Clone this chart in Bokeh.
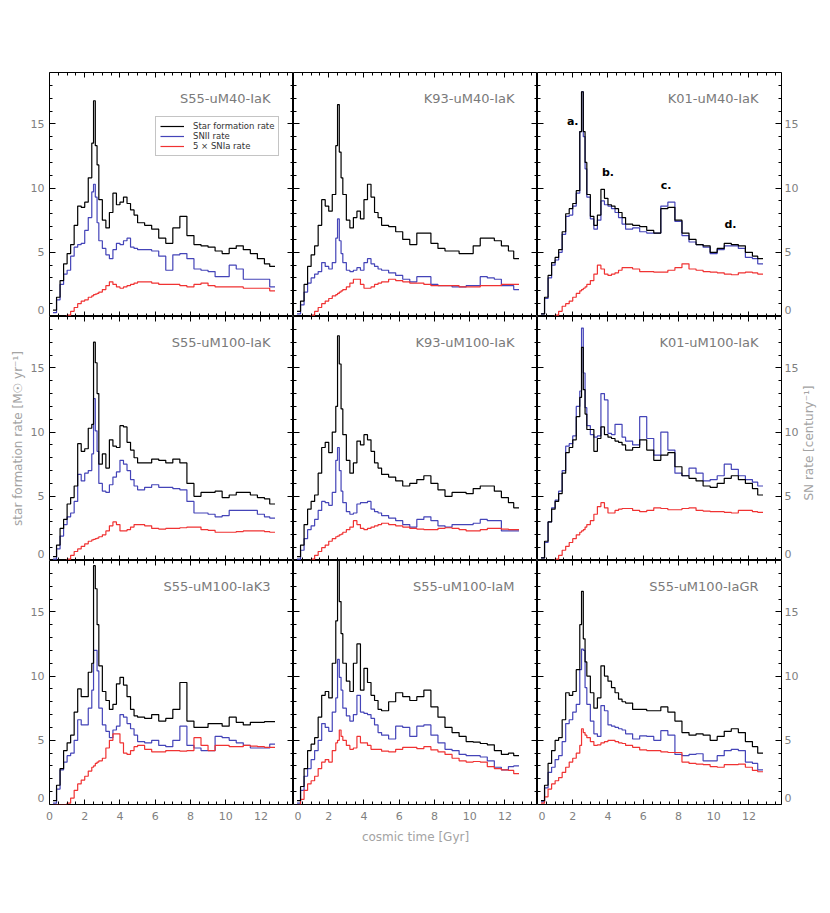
import math
from bokeh.plotting import figure
from bokeh.layouts import row, column
from bokeh.models import (Range1d, LinearAxis, FixedTicker, CustomJSTickFormatter,
                          Legend, LegendItem, Label)
from bokeh.embed import file_html
from bokeh.resources import INLINE

# ------------------------------------------------------------------ data
TIME_EDGES = [0.2, 0.4, 0.6, 0.8, 1.0, 1.2, 1.4, 1.6, 1.8, 2.0, 2.2, 2.4, 2.5, 2.6, 2.7, 2.8,
              3.0, 3.2, 3.4, 3.6, 3.8, 4.0, 4.2, 4.4, 4.6, 4.8, 5.0, 5.4, 5.8, 6.2, 6.6, 7.0,
              7.4, 7.8, 8.2, 8.6, 9.0, 9.4, 9.8, 10.2, 10.6, 11.0, 11.4, 11.8, 12.2, 12.5, 12.8]

S55_uM40_IaK_SFR = [0.5, 1.5, 2.8, 4.1, 4.9, 5.6, 7.1, 8.6, 8.5, 8.9, 10.8, 13.5, 16.8, 13.3, 11.8, 9.1,
                    7.5, 6.9, 8.1, 9.6, 8.7, 8.9, 9.3, 8.8, 8.3, 7.9, 7.3, 7.1, 6.8, 6.1, 5.7, 6.9,
                    7.8, 6.3, 5.6, 5.5, 5.4, 5.1, 4.9, 5.3, 5.5, 5.2, 4.9, 4.5, 4.1, 3.9]
S55_uM40_IaK_SNII = [0.3, 1.3, 2.5, 3.3, 3.6, 4.7, 5.4, 5.6, 5.7, 6.7, 7.7, 9.7, 10.3, 9.3, 7.3, 5.9,
                     5.3, 4.8, 4.5, 5.2, 5.7, 5.6, 5.9, 6.1, 5.4, 5.3, 5.2, 5.2, 5.1, 4.7, 3.6, 4.8,
                     4.9, 4.5, 3.7, 3.6, 3.5, 3.1, 3.1, 4.0, 3.7, 2.9, 2.9, 2.9, 2.9, 2.3]
S55_uM40_IaK_SNIA = [0, 0, 0, 0, 0.1, 0.4, 0.7, 1.0, 1.2, 1.3, 1.5, 1.6, 1.7, 1.75, 1.8, 1.9,
                     2.1, 2.4, 2.7, 2.5, 2.3, 2.2, 2.3, 2.4, 2.5, 2.6, 2.7, 2.7, 2.6, 2.5, 2.5, 2.5,
                     2.4, 2.3, 2.5, 2.6, 2.4, 2.3, 2.3, 2.3, 2.3, 2.2, 2.2, 2.2, 2.2, 2.0]

K93_uM40_IaK_SFR = [0.4, 1.2, 2.5, 3.9, 4.8, 5.5, 7.1, 9.1, 8.6, 8.2, 9.5, 13.3, 16.5, 12.8, 10.8, 9.5,
                    7.5, 6.9, 7.7, 8.2, 7.6, 9.1, 10.3, 9.3, 8.1, 7.7, 7.1, 7.0, 6.6, 6.0, 5.6, 6.5,
                    6.5, 5.7, 5.3, 5.1, 5.1, 4.9, 4.9, 5.5, 6.1, 6.1, 5.9, 5.5, 5.1, 4.5]
K93_uM40_IaK_SNII = [0.2, 0.9, 1.9, 2.6, 3.0, 3.3, 3.5, 4.2, 3.9, 3.7, 4.2, 6.1, 7.6, 5.9, 4.9, 4.2,
                     3.6, 3.5, 3.6, 3.8, 3.6, 4.2, 4.5, 4.1, 3.9, 3.7, 3.6, 3.4, 3.2, 2.9, 2.7, 3.1,
                     3.1, 2.5, 2.4, 2.4, 2.3, 2.3, 2.4, 2.4, 3.1, 3.0, 2.9, 2.4, 2.4, 2.1]
K93_uM40_IaK_SNIA = [0, 0, 0, 0, 0.1, 0.4, 0.7, 1.0, 1.2, 1.4, 1.6, 1.7, 1.8, 1.9, 2.0, 2.1,
                     2.3, 2.6, 2.9, 2.9, 2.5, 2.2, 2.2, 2.3, 2.5, 2.6, 2.7, 2.9, 2.8, 2.7, 2.6, 2.6,
                     2.5, 2.4, 2.4, 2.4, 2.4, 2.3, 2.3, 2.3, 2.4, 2.4, 2.4, 2.5, 2.5, 2.5]

K01_uM40_IaK_SFR = [0.2, 1.5, 3.2, 4.2, 4.6, 5.2, 6.6, 8.0, 8.4, 8.8, 9.8, 14.4, 17.5, 14.4, 12.0, 9.5,
                    7.8, 7.1, 7.9, 9.9, 9.2, 8.7, 8.6, 8.4, 8.1, 7.7, 7.2, 7.1, 7.0, 6.7, 6.5, 8.4,
                    8.5, 7.5, 6.5, 6.0, 5.6, 5.5, 5.0, 5.3, 5.7, 5.6, 5.5, 5.0, 4.7, 4.5]
K01_uM40_IaK_SNII = [0.2, 1.4, 3.0, 4.0, 4.4, 5.0, 6.4, 7.8, 7.9, 8.6, 9.6, 14.4, 17.5, 14.0, 11.5, 9.3,
                     7.6, 6.8, 7.5, 9.0, 8.7, 8.6, 8.4, 8.1, 7.7, 7.2, 6.8, 6.9, 6.6, 6.5, 6.5, 8.6,
                     8.9, 7.4, 6.3, 5.8, 5.6, 5.4, 4.9, 5.2, 5.5, 5.5, 5.3, 4.6, 4.5, 4.1]
K01_uM40_IaK_SNIA = [0, 0, 0, 0, 0.1, 0.4, 0.8, 1.0, 1.2, 1.5, 1.8, 2.0, 2.1, 2.2, 2.3, 2.5,
                     2.8, 3.3, 4.0, 3.7, 3.3, 3.2, 3.3, 3.4, 3.6, 3.8, 3.8, 3.7, 3.5, 3.5, 3.45, 3.45,
                     3.6, 3.8, 4.1, 3.7, 3.6, 3.5, 3.45, 3.4, 3.3, 3.25, 3.4, 3.45, 3.4, 3.3]

S55_uM100_IaK_SFR = [0.3, 1.2, 2.5, 3.2, 4.4, 4.9, 5.8, 9.1, 8.5, 8.7, 10.3, 10.6, 17.0, 15.4, 13.0, 7.5,
                     8.3, 7.2, 9.4, 8.9, 8.8, 10.5, 10.4, 9.2, 8.6, 8.0, 7.6, 7.6, 7.9, 7.8, 7.6, 7.9,
                     7.6, 6.0, 5.0, 5.3, 5.3, 5.4, 4.9, 5.1, 5.3, 5.3, 5.1, 4.9, 4.8, 4.4]
S55_uM100_IaK_SNII = [0.1, 0.9, 1.9, 2.8, 3.4, 3.7, 4.6, 6.7, 6.2, 6.8, 7.0, 8.3, 12.6, 10.1, 8.5, 6.0,
                      5.4, 5.3, 5.9, 6.5, 6.9, 7.8, 7.5, 7.0, 6.3, 5.8, 5.5, 5.7, 5.9, 5.7, 5.7, 5.6,
                      5.5, 4.6, 3.7, 3.7, 3.6, 3.4, 3.5, 3.9, 3.9, 3.9, 3.9, 3.6, 3.4, 3.3]
S55_uM100_IaK_SNIA = [0, 0, 0, 0, 0.1, 0.4, 0.7, 0.9, 1.1, 1.3, 1.5, 1.6, 1.65, 1.7, 1.75, 1.85,
                      2.0, 2.3, 2.7, 3.0, 2.8, 2.3, 2.3, 2.4, 2.6, 2.8, 2.8, 2.7, 2.5, 2.45, 2.5, 2.5,
                      2.55, 2.6, 2.6, 2.4, 2.35, 2.2, 2.2, 2.2, 2.25, 2.3, 2.3, 2.3, 2.25, 2.2]

K93_uM100_IaK_SFR = [0.3, 1.2, 2.8, 4.0, 4.6, 5.1, 6.8, 8.8, 9.2, 8.4, 10.0, 12.0, 17.5, 15.3, 11.8, 9.8,
                     7.8, 6.8, 7.6, 9.3, 9.0, 9.8, 9.4, 8.5, 7.6, 7.2, 6.7, 6.5, 6.2, 5.8, 6.0, 6.3,
                     6.6, 6.0, 5.5, 5.0, 5.3, 5.3, 5.2, 5.6, 5.8, 5.8, 5.4, 4.9, 4.5, 4.1]
K93_uM100_IaK_SNII = [0.1, 0.8, 1.7, 2.4, 2.7, 3.2, 3.9, 4.6, 4.5, 4.3, 5.3, 7.8, 8.8, 7.0, 5.4, 4.5,
                      3.8, 3.6, 3.7, 4.4, 4.5, 4.5, 4.6, 4.0, 3.8, 3.7, 3.5, 3.3, 3.1, 2.8, 2.6, 3.2,
                      3.4, 3.1, 2.7, 2.6, 2.8, 2.8, 2.8, 2.9, 3.2, 3.1, 3.1, 2.3, 2.3, 2.3]
K93_uM100_IaK_SNIA = [0, 0, 0, 0, 0.1, 0.4, 0.7, 1.0, 1.2, 1.5, 1.7, 1.85, 1.9, 2.0, 2.05, 2.2,
                      2.4, 2.6, 3.1, 2.8, 2.5, 2.4, 2.5, 2.6, 2.7, 2.8, 2.9, 2.8, 2.7, 2.6, 2.5, 2.45,
                      2.4, 2.4, 2.5, 2.55, 2.5, 2.4, 2.3, 2.3, 2.4, 2.5, 2.5, 2.45, 2.4, 2.4]

K01_uM100_IaK_SFR = [0.2, 1.5, 3.0, 4.0, 4.6, 5.2, 6.8, 8.4, 8.8, 9.4, 11.2, 12.7, 16.6, 13.3, 11.4, 10.2,
                     10.2, 8.5, 9.5, 10.4, 9.8, 9.6, 9.5, 9.3, 9.2, 9.0, 8.6, 8.8, 9.4, 8.6, 7.8, 8.2,
                     8.4, 7.3, 6.6, 6.4, 6.2, 5.8, 5.7, 6.0, 6.4, 6.6, 6.3, 6.0, 5.6, 5.1]
K01_uM100_IaK_SNII = [0.2, 1.4, 3.0, 4.1, 4.7, 5.4, 7.0, 8.9, 9.1, 9.7, 12.0, 13.2, 18.1, 14.6, 11.9, 10.5,
                      9.8, 9.6, 9.7, 13.0, 12.5, 9.9, 9.8, 10.6, 10.6, 9.6, 9.3, 9.0, 11.2, 9.5, 8.2, 10.0,
                      8.6, 6.8, 6.6, 7.2, 6.8, 6.2, 6.3, 6.6, 7.5, 7.1, 6.6, 6.3, 6.1, 5.8]
K01_uM100_IaK_SNIA = [0, 0, 0, 0, 0.1, 0.4, 0.8, 1.1, 1.4, 1.7, 2.0, 2.2, 2.3, 2.4, 2.6, 2.8,
                      3.1, 3.6, 4.2, 4.5, 4.1, 3.7, 3.7, 3.9, 4.0, 4.05, 4.05, 3.9, 3.8, 3.9, 4.1, 4.05,
                      3.95, 3.95, 4.05, 4.1, 3.9, 3.85, 3.8, 3.8, 3.75, 3.7, 3.9, 3.9, 3.8, 3.75]

S55_uM100_IaK3_SFR = [0.3, 1.5, 2.8, 4.2, 4.8, 5.4, 7.2, 9.0, 8.4, 8.4, 10.3, 11.0, 18.6, 16.8, 14.0, 10.8,
                      8.8, 8.1, 7.4, 7.8, 9.4, 9.9, 9.3, 8.4, 7.4, 6.9, 6.8, 6.7, 7.0, 6.5, 6.7, 7.4,
                      9.5, 6.5, 6.0, 6.0, 6.3, 6.3, 6.1, 6.8, 6.4, 6.2, 6.4, 6.4, 6.45, 6.45]
S55_uM100_IaK3_SNII = [0.1, 1.2, 2.7, 3.3, 3.8, 4.0, 5.0, 6.6, 6.2, 6.2, 7.5, 8.9, 12.0, 12.0, 10.4, 7.5,
                       6.2, 5.7, 5.2, 5.8, 6.1, 7.0, 6.8, 6.3, 5.9, 5.4, 4.9, 4.8, 5.0, 4.6, 4.5, 5.0,
                       6.1, 4.6, 4.4, 4.2, 4.2, 5.3, 5.2, 5.0, 4.8, 4.6, 4.4, 4.4, 4.4, 4.7]
S55_uM100_IaK3_SNIA = [0, 0, 0, 0, 0.1, 0.5, 1.1, 1.6, 1.9, 2.2, 2.6, 2.9, 3.0, 3.2, 3.3, 3.4,
                       3.6, 4.4, 5.0, 5.5, 5.5, 4.8, 4.0, 3.9, 4.2, 4.5, 4.6, 4.3, 4.1, 4.1, 4.2, 4.2,
                       4.15, 4.2, 5.2, 4.6, 4.2, 4.6, 4.6, 4.5, 4.5, 4.6, 4.55, 4.5, 4.45, 4.45]

S55_uM100_IaM_SFR = [0.3, 1.4, 2.8, 4.2, 4.7, 5.2, 6.8, 8.5, 8.8, 8.3, 11.0, 14.3, 20.0, 15.8, 13.3, 11.0,
                     9.6, 8.8, 11.0, 12.5, 8.9, 10.6, 9.5, 8.5, 8.1, 7.4, 7.3, 8.0, 8.7, 8.4, 8.1, 8.4,
                     8.9, 7.6, 6.8, 6.0, 5.6, 5.3, 4.9, 4.85, 4.75, 4.65, 4.2, 3.9, 4.0, 3.8]
S55_uM100_IaM_SNII = [0.1, 1.1, 2.2, 2.8, 3.5, 4.2, 5.0, 6.3, 6.0, 5.7, 7.2, 8.3, 11.3, 9.9, 8.9, 7.5,
                      6.9, 6.5, 7.0, 8.5, 7.2, 7.1, 7.0, 6.7, 6.2, 5.6, 5.4, 5.1, 6.1, 6.0, 5.3, 6.1,
                      6.2, 5.4, 4.8, 4.3, 4.2, 3.9, 3.8, 3.8, 3.7, 3.4, 2.9, 2.7, 2.95, 3.0]
S55_uM100_IaM_SNIA = [0, 0.4, 1.1, 1.6, 1.85, 2.2, 2.8, 3.3, 3.5, 3.3, 4.2, 4.8, 5.0, 5.8, 5.3, 5.0,
                      4.6, 4.3, 4.4, 5.3, 4.8, 4.8, 4.6, 4.3, 4.3, 4.3, 4.15, 4.1, 4.3, 4.45, 4.45, 4.35,
                      4.5, 4.25, 4.1, 3.9, 3.6, 3.4, 3.3, 3.35, 3.3, 2.95, 2.8, 2.7, 2.65, 2.4]

S55_uM100_IaGR_SFR = [0.3, 1.5, 3.2, 4.2, 5.0, 5.2, 6.6, 8.7, 8.5, 8.8, 10.5, 14.0, 16.6, 12.9, 11.1, 10.0,
                      8.7, 7.5, 8.3, 10.8, 10.0, 9.6, 9.1, 8.7, 8.2, 8.0, 7.9, 7.4, 7.4, 7.3, 7.3, 7.6,
                      7.2, 6.5, 5.6, 5.4, 5.5, 5.4, 5.0, 5.3, 5.7, 5.9, 5.6, 4.9, 4.5, 4.0]
S55_uM100_IaGR_SNII = [0.2, 1.3, 2.5, 2.9, 3.5, 3.8, 4.9, 6.3, 6.6, 7.2, 7.8, 10.5, 12.1, 12.0, 9.1, 7.8,
                       6.5, 5.5, 5.3, 7.7, 7.3, 6.2, 6.1, 6.0, 5.9, 5.8, 5.5, 5.1, 5.35, 5.3, 5.0, 5.75,
                       5.4, 3.9, 3.8, 3.9, 3.95, 3.4, 3.4, 3.8, 4.2, 4.3, 4.2, 3.3, 3.2, 2.7]
S55_uM100_IaGR_SNIA = [0.1, 0.6, 1.2, 1.6, 1.85, 2.1, 2.5, 2.9, 3.3, 3.6, 4.0, 4.6, 5.9, 5.6, 5.4, 5.2,
                       4.9, 4.6, 4.65, 4.8, 4.9, 5.0, 5.0, 4.9, 4.8, 4.75, 4.6, 4.45, 4.25, 4.2, 4.2, 4.1,
                       4.05, 4.05, 3.3, 3.2, 3.15, 3.1, 2.95, 2.9, 3.1, 3.1, 3.15, 2.9, 2.65, 2.55]

PANEL_NAMES = ["S55-uM40-IaK", "K93-uM40-IaK", "K01-uM40-IaK",
               "S55-uM100-IaK", "K93-uM100-IaK", "K01-uM100-IaK",
               "S55-uM100-IaK3", "S55-uM100-IaM", "S55-uM100-IaGR"]
PANEL_SFR = [S55_uM40_IaK_SFR, K93_uM40_IaK_SFR, K01_uM40_IaK_SFR,
             S55_uM100_IaK_SFR, K93_uM100_IaK_SFR, K01_uM100_IaK_SFR,
             S55_uM100_IaK3_SFR, S55_uM100_IaM_SFR, S55_uM100_IaGR_SFR]
PANEL_SNII = [S55_uM40_IaK_SNII, K93_uM40_IaK_SNII, K01_uM40_IaK_SNII,
              S55_uM100_IaK_SNII, K93_uM100_IaK_SNII, K01_uM100_IaK_SNII,
              S55_uM100_IaK3_SNII, S55_uM100_IaM_SNII, S55_uM100_IaGR_SNII]
PANEL_SNIA = [S55_uM40_IaK_SNIA, K93_uM40_IaK_SNIA, K01_uM40_IaK_SNIA,
              S55_uM100_IaK_SNIA, K93_uM100_IaK_SNIA, K01_uM100_IaK_SNIA,
              S55_uM100_IaK3_SNIA, S55_uM100_IaM_SNIA, S55_uM100_IaGR_SNIA]

LEGEND_LABELS = ["Star formation rate", "SNII rate", "5 \u00d7 SNIa rate"]
MARK_TEXT = ["a.", "b.", "c.", "d."]
MARK_X = [2.0, 4.0, 7.3, 10.95]
MARK_Y = [15.2, 11.2, 10.2, 7.15]
RIGHT_TITLE = "SN rate [century\u207b\u00b9]"

X_TICKS = [0, 2, 4, 6, 8, 10, 12]
X_MINOR_TICKS = [0.5, 1, 1.5, 2, 2.5, 3, 3.5, 4, 4.5, 5, 5.5, 6, 6.5, 7, 7.5, 8, 8.5, 9,
                 9.5, 10, 10.5, 11, 11.5, 12, 12.5, 13, 13.5]
Y_TICKS = [0, 5, 10, 15]
Y_MINOR_TICKS = [1, 2, 3, 4, 5, 6, 7, 8, 9, 10, 11, 12, 13, 14, 15, 16, 17, 18]
X_MAX = 13.85
Y_MAX = 19.0

# ------------------------------------------------------------------ style
FONT = "DejaVu Sans"
C_SFR = "#000000"
C_SNII = "#4444b8"
C_SNIA = "#f03232"
TICK_GRAY = "#7f7f7f"
LABEL_GRAY = "#a3a3a3"
TITLE_GRAY = "#7a7a7a"
ZERO_LABEL_Y = 0.5     # label spot of the y "0" (drawn slightly above the bottom edge)
ZERO_LABEL_X = 0.25    # label spot of the x "0" of inner columns (right of the edge)
RIGHT_TITLE_PAD = "\u2003" * 5   # lifts the bottom-anchored right title to the row middle

ZERO_FMT = "return (tick < 1) ? '0' : String(Math.round(tick));"
AXIS_PROPS = LinearAxis.properties()


def tick_axis(ticks, minor, loc, maj, mnr):
    """Tick marks only, drawn inward on a frame edge."""
    return LinearAxis(ticker=FixedTicker(ticks=ticks, minor_ticks=minor), fixed_location=loc,
                      major_tick_in=maj, major_tick_out=0, minor_tick_in=mnr, minor_tick_out=0,
                      major_label_text_font_size="0px", major_label_text_color=None,
                      major_label_standoff=0,
                      axis_line_color="black", major_tick_line_color="black",
                      minor_tick_line_color="black")


def label_axis(ticks, standoff):
    """Tick labels only (the marks come from tick_axis)."""
    return LinearAxis(ticker=FixedTicker(ticks=ticks),
                      formatter=CustomJSTickFormatter(code=ZERO_FMT),
                      major_tick_in=0, major_tick_out=0, minor_tick_in=0, minor_tick_out=0,
                      axis_line_color=None, major_tick_line_color=None,
                      minor_tick_line_color=None, major_label_standoff=standoff,
                      major_label_text_font=FONT, major_label_text_font_size="11px",
                      major_label_text_color=TICK_GRAY)


def set_axis_title(ax, text, standoff):
    ax.axis_label = text
    ax.axis_label_text_font = FONT
    ax.axis_label_text_font_size = "12px"
    ax.axis_label_text_font_style = "normal"
    ax.axis_label_text_color = LABEL_GRAY
    ax.axis_label_standoff = standoff


def right_title_axis():
    tax = LinearAxis(ticker=FixedTicker(ticks=[]), axis_line_color=None,
                     major_tick_in=0, major_tick_out=0, minor_tick_in=0, minor_tick_out=0,
                     major_label_text_font_size="0px", major_label_text_color=None,
                     major_label_standoff=0)
    set_axis_title(tax, RIGHT_TITLE, 7)
    if "axis_label_orientation" in AXIS_PROPS and "axis_label_align" in AXIS_PROPS:
        try:
            tax.axis_label_align = "start"
            tax.axis_label_orientation = math.pi / 2
            tax.axis_label = RIGHT_TITLE_PAD + RIGHT_TITLE
        except Exception:
            tax.axis_label = RIGHT_TITLE
    return tax


def make_panel(idx):
    r, c = divmod(idx, 3)
    p = figure(frame_width=244, frame_height=244,
               x_range=Range1d(0, X_MAX), y_range=Range1d(0, Y_MAX),
               x_axis_location=None, y_axis_location=None,
               toolbar_location=None, output_backend="svg",
               min_border_left=49 if c == 0 else 0, min_border_right=45 if c == 2 else 0,
               min_border_top=72 if r == 0 else 0, min_border_bottom=56 if r == 2 else 0,
               background_fill_color="white", border_fill_color="white",
               outline_line_color="black", outline_line_width=1)
    p.grid.visible = False

    rb = p.step(TIME_EDGES, PANEL_SNII[idx] + PANEL_SNII[idx][-1:], mode="after",
                line_color=C_SNII, line_width=1.2)
    rr = p.step(TIME_EDGES, PANEL_SNIA[idx] + PANEL_SNIA[idx][-1:], mode="after",
                line_color=C_SNIA, line_width=1.2)
    rk = p.step(TIME_EDGES, PANEL_SFR[idx] + PANEL_SFR[idx][-1:], mode="after",
                line_color=C_SFR, line_width=1.2)

    y_label_ticks = [ZERO_LABEL_Y] + Y_TICKS[1:]

    # left
    if c == 0:
        ax = label_axis(y_label_ticks, 5)
        if r == 1:
            set_axis_title(ax, "star formation rate [M\u2609 yr\u207b\u00b9]", 3)
        p.add_layout(ax, "left")
    p.add_layout(tick_axis(Y_TICKS, Y_MINOR_TICKS, 0, 6, 3), "left")
    # right
    if c == 2:
        p.add_layout(label_axis(y_label_ticks, 3), "right")
        if r == 1:
            p.add_layout(right_title_axis(), "right")
    p.add_layout(tick_axis(Y_TICKS, Y_MINOR_TICKS, X_MAX, 6, 3), "right")
    # bottom
    if r == 2:
        ax = label_axis(X_TICKS if c == 0 else [ZERO_LABEL_X] + X_TICKS[1:], 7)
        if c == 1:
            set_axis_title(ax, "cosmic time [Gyr]", 7)
        p.add_layout(ax, "below")
    p.add_layout(tick_axis(X_TICKS, X_MINOR_TICKS, 0, 5, 3), "below")
    # top
    p.add_layout(tick_axis(X_TICKS, X_MINOR_TICKS, Y_MAX, 5, 3), "above")

    # panel name
    p.add_layout(Label(x=X_MAX, y=Y_MAX, x_offset=-23, y_offset=-26, text=PANEL_NAMES[idx],
                       text_align="right", text_baseline="middle", text_font=FONT,
                       text_font_size="13px", text_color=TITLE_GRAY))

    if idx == 0:
        legend = Legend(items=[LegendItem(label=LEGEND_LABELS[0], renderers=[rk]),
                               LegendItem(label=LEGEND_LABELS[1], renderers=[rb]),
                               LegendItem(label=LEGEND_LABELS[2], renderers=[rr])],
                        location=(106, 160), padding=4, spacing=0, margin=0,
                        glyph_width=24, glyph_height=8, label_height=8, label_standoff=9,
                        label_text_font=FONT, label_text_font_size="8.5px",
                        label_text_color="#333333", border_line_color="#8a8a8a",
                        border_line_width=1, background_fill_color="white",
                        background_fill_alpha=1.0)
        p.add_layout(legend)

    if idx == 2:
        for t, mx, my in zip(MARK_TEXT, MARK_X, MARK_Y):
            p.add_layout(Label(x=mx, y=my, text=t, text_align="center", text_baseline="middle",
                               text_font=FONT, text_font_size="11px", text_font_style="bold",
                               text_color="black"))
    return p


panels = [make_panel(i) for i in range(9)]
layout = column(row(*panels[0:3]), row(*panels[3:6]), row(*panels[6:9]))

with open("out.html", "w", encoding="utf-8") as f:
    f.write(file_html(layout, INLINE, title="SFR and SN rates"))
